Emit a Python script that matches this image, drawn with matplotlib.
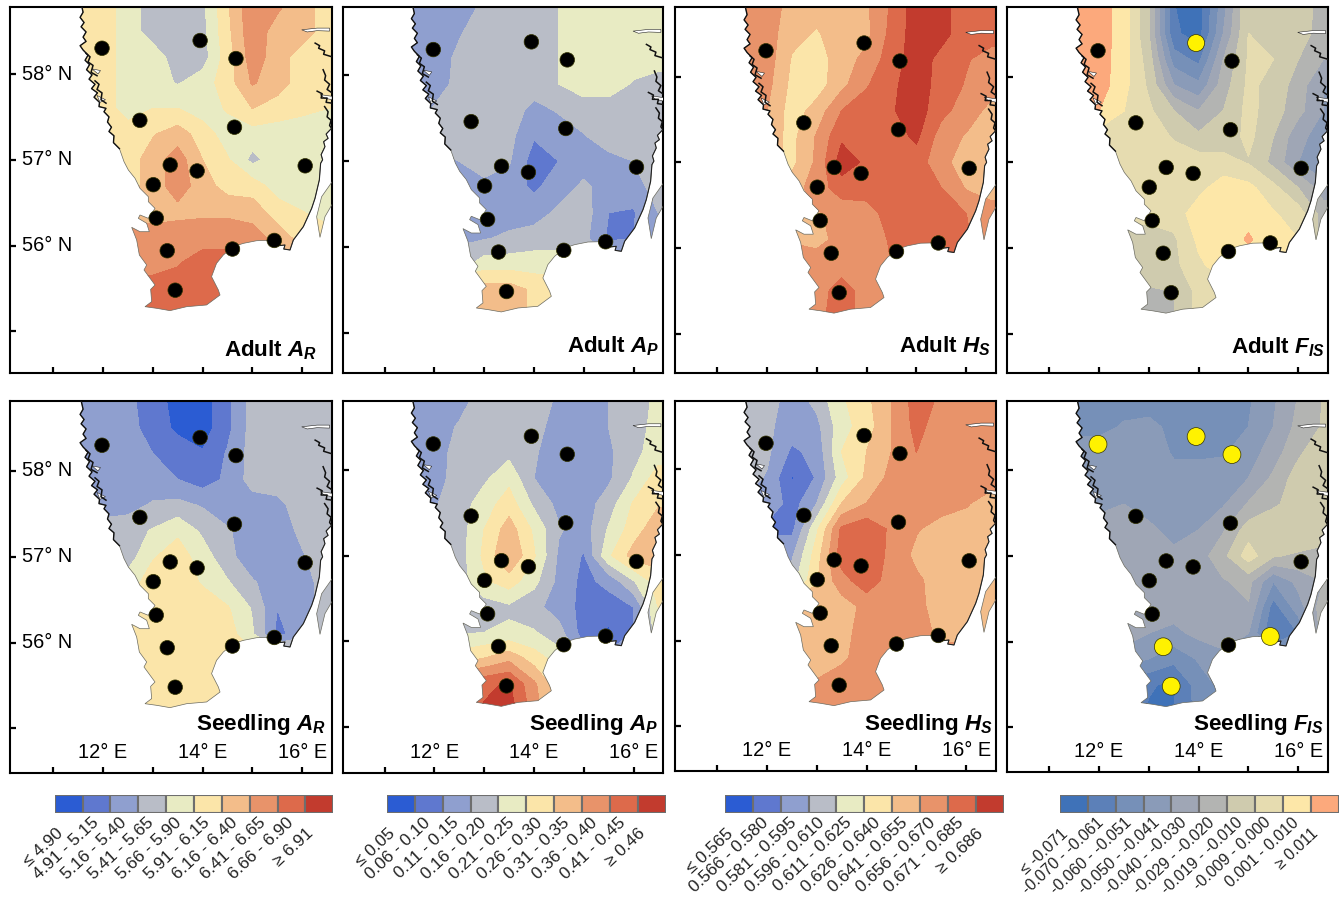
"""
Adult / seedling genetic diversity maps for southern Sweden
"""

import numpy as np
import matplotlib
matplotlib.use("Agg")
import matplotlib.pyplot as plt
from matplotlib.path import Path
from matplotlib.patches import PathPatch, Polygon

plt.rcParams['font.family'] = ['Liberation Sans', 'DejaVu Sans']
plt.rcParams['mathtext.fontset'] = 'custom'
plt.rcParams['mathtext.it'] = 'Liberation Sans:italic:bold'
plt.rcParams['mathtext.rm'] = 'Liberation Sans:bold'

# =============================================================================
# DATA
# =============================================================================

site_lon = [11.98, 13.95, 14.67, 12.74, 14.64, 13.35, 13.89, 16.06, 13.01, 13.07, 13.29, 14.60, 15.44, 13.45]
site_lat = [58.30, 58.39, 58.18, 57.46, 57.38, 56.94, 56.87, 56.93, 56.71, 56.32, 55.94, 55.96, 56.06, 55.48]

west_lon = [11.53, 11.60, 11.54, 11.62, 11.56, 11.66, 11.60, 11.66, 11.54, 11.60, 11.70, 11.64, 11.73, 11.67, 11.78,
            11.72, 11.84, 11.77, 11.89, 11.82, 11.93, 11.92, 12.06, 12.02, 12.12, 12.09, 12.17, 12.12, 12.22, 12.21, 12.33]
west_lat = [58.9, 58.72, 58.66, 58.6, 58.55, 58.49, 58.43, 58.38, 58.33, 58.28, 58.22, 58.16, 58.11, 58.05, 57.99,
            57.94, 57.88, 57.83, 57.78, 57.73, 57.67, 57.62, 57.6, 57.56, 57.5, 57.44, 57.38, 57.33, 57.28, 57.2, 57.13]

south_lon = [12.422, 12.509, 12.643, 12.743, 12.91, 12.91, 13.044, 12.91, 12.743, 12.709, 12.877, 12.93,
             12.743, 12.576, 12.676, 12.73, 12.877, 12.823, 13.044, 12.957, 12.977, 12.843, 13.078, 13.345,
             13.68, 14.08, 14.35, 14.316, 14.18, 14.28, 14.416, 14.617, 14.818, 15.085]
south_lat = [56.978, 56.881, 56.784, 56.667, 56.57, 56.512, 56.434, 56.318, 56.357, 56.318, 56.26, 56.162,
             56.162, 56.213, 56.065, 55.89, 55.774, 55.716, 55.541, 55.49, 55.347, 55.288, 55.269, 55.242,
             55.288, 55.308, 55.424, 55.483, 55.638, 55.793, 55.89, 55.988, 56.026, 56.057]

east_lon = [15.3, 15.487, 15.56, 15.54, 15.654, 15.63, 15.755, 15.822, 16.023, 16.19, 16.257, 16.344,
            16.37, 16.41, 16.38, 16.457, 16.43, 16.52, 16.48, 16.59, 16.8, 16.8, 11.53]
east_lat = [56.06, 56.085, 56.03, 56.0, 56.007, 55.96, 55.949, 56.065, 56.221, 56.434, 56.551, 56.765,
            56.959, 57.0, 57.06, 57.153, 57.211, 57.25, 57.3, 57.367, 57.367, 58.9, 58.9]

oland_lon = [16.65, 16.39, 16.29, 16.357, 16.457, 16.65, 16.65]
oland_lat = [56.784, 56.57, 56.337, 56.096, 56.337, 56.53, 56.784]

# white slivers and black skerry lines of the archipelago
inlets = [
    ([15.99, 16.3, 16.55, 16.55, 16.3, 16.1], [58.515, 58.535, 58.535, 58.50, 58.505, 58.49]),
    ([16.36, 16.6, 16.6, 16.44], [57.76, 57.74, 57.70, 57.72]),
    ([11.78, 11.95, 11.9], [58.06, 58.04, 58.0]),
    ([11.88, 12.05, 11.94], [57.75, 57.70, 57.67]),
]
skerries = [
    ([16.26, 16.35, 16.33, 16.45, 16.43, 16.6], [58.36, 58.33, 58.30, 58.27, 58.23, 58.2]),
    ([16.42, 16.47, 16.45, 16.55, 16.5, 16.6], [58.05, 57.98, 57.93, 57.88, 57.82, 57.78]),
    ([16.3, 16.4, 16.38, 16.5, 16.48, 16.6], [57.80, 57.77, 57.72, 57.72, 57.67, 57.66]),
    ([16.45, 16.52, 16.5, 16.58, 16.55, 16.6], [57.62, 57.56, 57.5, 57.46, 57.4, 57.36]),
    ([11.66, 11.74, 11.70, 11.80, 11.76, 11.88], [58.24, 58.2, 58.14, 58.1, 58.02, 57.98]),
    ([11.84, 11.92, 11.88, 11.98, 11.96, 12.06], [57.92, 57.88, 57.82, 57.78, 57.7, 57.66]),
]

grid_lon = [11.5, 12.0, 12.5, 13.0, 13.5, 14.0, 14.5, 15.0, 15.5, 16.0, 16.5, 17.0]
grid_lat = [58.9, 58.5, 58.2, 57.9, 57.6, 57.3, 57.0, 56.7, 56.4, 56.1, 55.8, 55.5, 55.2]

# legend band position (0-9)
adult_ar = [
    [5, 5, 4, 3, 3, 3.2, 5.4, 7.3, 7, 6, 5, 5],
    [5, 5, 4, 3, 3, 3.2, 5.2, 7.2, 6, 6, 5, 5],
    [5, 5, 4, 4, 3, 3, 5, 7, 6, 5, 5, 5],
    [5, 5, 4, 4, 3.4, 4, 5, 6.6, 6, 5, 5, 5],
    [5, 5, 4, 4.5, 4.5, 4, 4.6, 5.5, 5, 4.7, 4.5, 4.5],
    [5, 5, 5, 5.4, 6, 5, 4, 4, 4, 4, 4, 4],
    [5, 5, 5, 6, 7, 5.5, 4.6, 3.2, 4, 4, 4, 4],
    [5, 5, 5, 6, 7, 6, 5, 5, 4, 4, 4, 4],
    [6, 6, 6, 6, 6.2, 6.3, 6.3, 6, 5, 4.5, 4, 4],
    [7, 7, 7, 7, 7, 7, 7, 7, 6, 5, 5, 5],
    [7, 7, 7, 7, 7.4, 8, 8, 7, 7, 7, 7, 7],
    [8, 8, 8, 8, 8, 8, 8, 8, 8, 8, 8, 8],
    [8, 8, 8, 8, 8, 8, 8, 8, 8, 8, 8, 8],
]
adult_ap = [
    [2, 2, 2, 2.55, 3, 3, 3.5, 4, 4, 4, 4, 4],
    [2, 2, 2.4, 3, 3, 3, 3.5, 4, 4, 4, 4, 4],
    [2, 2, 2.7, 3, 3, 3, 3.5, 4, 4, 4, 4, 4],
    [2, 2, 2.8, 3, 3, 3, 3.5, 4, 4, 3.4, 3, 3],
    [2, 2.6, 3, 3, 3, 2.2, 2.6, 3, 3, 3, 3, 3],
    [3, 3, 3, 3, 2.8, 1.6, 2, 2.45, 3, 3, 3, 3],
    [2, 2, 2.5, 3, 2.6, 1, 1.5, 2, 2.2, 2.5, 3, 3],
    [2, 2, 2, 2.2, 2, 1.3, 2, 2.7, 2, 2, 3, 3],
    [2, 2, 2, 2, 2, 2, 2.7, 3, 1.5, 1.4, 2.5, 2.5],
    [2, 2, 2.3, 2.4, 2.7, 3, 3, 2.8, 1.3, 1.5, 2, 2],
    [3, 3, 3, 4, 4, 4, 4, 3, 3, 3, 3, 3],
    [5, 6, 6, 6, 6, 5.3, 5, 5, 5, 5, 5, 5],
    [6, 6, 6, 6, 6, 5.3, 5, 5, 5, 5, 5, 5],
]
adult_hs = [
    [7, 7, 6.2, 6, 6, 6.4, 7.6, 9, 8.8, 8, 8, 8],
    [7, 7, 5.8, 5.4, 6, 6.2, 7.8, 9, 8.8, 8, 8, 8],
    [7, 7, 5.4, 5, 6, 6.8, 8, 9, 8.2, 7.6, 7, 7],
    [7, 6.8, 5.2, 5, 6.2, 7.4, 8.3, 9, 8.1, 7.4, 6.9, 6.9],
    [6.5, 6.5, 5, 5.9, 7.5, 8, 8.4, 9, 7.8, 7, 6.2, 6],
    [6, 6, 5.2, 6.6, 8.3, 8, 8, 8.7, 7, 6.4, 6, 6],
    [6, 6, 5.2, 6.7, 9, 8.3, 8, 8, 6.8, 6, 6, 6],
    [6, 6, 6, 7, 8, 8, 8, 8, 7.5, 6.4, 6, 6],
    [6, 6, 6, 6.4, 6.8, 7, 8, 8, 8, 7.5, 7, 7],
    [6.4, 6.4, 6.4, 6.2, 6.8, 7, 7.6, 8, 8, 7.6, 7, 7],
    [7, 7, 7, 7, 7, 7, 7.5, 7.5, 7.5, 7.5, 7, 7],
    [7, 7, 7, 7, 8, 7, 7, 7, 7, 7, 7, 7],
    [7, 7, 7, 7.2, 8, 7, 7, 7, 7, 7, 7, 7],
]
adult_fis = [
    [9, 9, 8, 5.5, 0.5, 0, 3, 6.5, 6.5, 6.3, 5, 5],
    [9, 9, 8, 5.5, 0.7, 0, 3.5, 6.5, 6.5, 6, 5, 5],
    [9, 9, 7.9, 6, 2, 1.2, 4.5, 6.6, 6.5, 5.5, 4.5, 4.5],
    [9, 9, 7.8, 6.3, 3.5, 2.7, 5, 6.7, 6.2, 5, 3.5, 3.5],
    [8.5, 8.5, 7.5, 6.7, 5.5, 4.5, 5.5, 6.8, 6, 4.8, 3.5, 3.5],
    [7, 7, 7, 7, 6.4, 5.7, 5.8, 6.8, 5.5, 3.8, 3, 3],
    [7, 7, 7, 7, 7, 7, 6.9, 6.4, 5.2, 3.5, 2.4, 2.4],
    [7, 7, 7, 7, 7, 7.2, 8, 7.8, 6.8, 5.5, 4, 4],
    [7, 7, 7, 7, 7, 8, 8, 8.2, 7.6, 7, 5, 5],
    [6, 6, 6, 5.7, 6.3, 7.7, 8, 8.6, 8, 7.5, 5, 5],
    [6, 6, 6, 6, 6.2, 7.3, 8, 8, 8, 8, 5, 5],
    [5.4, 5.4, 5.4, 5.4, 5.5, 6.8, 7, 7, 7, 7, 7, 7],
    [5, 5, 5, 5, 5.4, 6.8, 7, 7, 7, 7, 7, 7],
]
seedling_ar = [
    [2, 2, 1.7, 1, 0, 0, 1.2, 2.9, 3, 3, 3, 3],
    [2, 2, 1.9, 1, 0.3, 0, 1.2, 2.9, 3, 3, 3, 3],
    [2, 2, 2, 1.5, 1, 0.6, 1.6, 2.9, 3, 3, 3, 3],
    [2, 2, 2, 2, 1.5, 1, 1.7, 2.9, 3, 3, 3, 3],
    [2, 2, 2.2, 2.6, 2.8, 2.4, 2, 2, 2.2, 3, 3, 3],
    [3, 3, 3, 3.6, 4.3, 3.3, 2.6, 2, 2, 2.7, 3, 3],
    [3, 3, 3, 4.4, 5, 4, 2.8, 1.9, 2, 2.4, 3, 3],
    [4, 4, 4, 5, 5, 4.4, 3.6, 2.6, 2, 2, 3, 3],
    [5, 5, 5, 5, 5, 5, 4.6, 3.4, 1.5, 2, 3, 3],
    [5, 5, 5, 5, 5, 5, 5, 3.6, 1.2, 2, 3, 3],
    [5, 5, 5, 5, 5, 5, 5, 5, 5, 5, 5, 5],
    [5, 5, 5, 5, 5, 5, 5, 5, 5, 5, 5, 5],
    [5, 5, 5, 5, 5, 5, 5, 5, 5, 5, 5, 5],
]
seedling_ap = [
    [2, 2, 2, 2.8, 3, 3, 2.4, 2, 2.5, 3, 3.7, 4],
    [2, 2, 2.6, 3, 3, 2.9, 2, 2, 2.5, 3, 3.9, 4],
    [2, 2, 2.9, 3, 3.2, 2.6, 2, 2, 2.3, 3.2, 4, 4],
    [2, 2.1, 2.9, 3.3, 4.2, 2.5, 2, 2, 2.3, 3.6, 5, 5],
    [2, 2.4, 3, 4, 5, 3.3, 2.2, 2, 3, 4.6, 5.4, 5.4],
    [3, 3, 3, 4.5, 6, 4.3, 2.6, 2, 3.6, 5, 6.2, 6.2],
    [3, 3, 3, 4.7, 6.5, 4.6, 2.3, 1.4, 4.3, 5.9, 6, 6],
    [3, 3, 3, 4.3, 5, 3.8, 2.2, 1.2, 1.8, 3.4, 5, 5],
    [3, 3, 3, 3, 3.3, 2.8, 2, 1.2, 1, 1.5, 4.5, 4.5],
    [3.4, 3.4, 3.4, 3.5, 3.7, 3.6, 2.9, 1, 0.3, 1.5, 4, 4],
    [5, 5, 5, 5.5, 6.2, 5, 4, 2, 2, 2, 4, 4],
    [8, 8, 8, 8.3, 8.6, 6.7, 4.8, 4, 4, 4, 4, 4],
    [8, 8, 8, 8.6, 9, 7, 5, 5, 5, 5, 5, 5],
]
seedling_hs = [
    [3, 3, 2.1, 3, 4.4, 5.3, 6.5, 8, 7.4, 7, 7, 7],
    [3, 2.7, 2, 2.2, 4.1, 5, 6.5, 7.8, 7, 7, 7, 7],
    [3, 2.7, 1.3, 1.8, 4.5, 5.5, 6.5, 7.5, 7, 7, 7, 7],
    [3, 2.4, 0.4, 1.6, 4, 5.7, 6.8, 7.2, 7, 7, 7, 7],
    [2.3, 2.3, 1, 2.5, 5.5, 6.5, 7, 7, 7, 6.6, 6, 6],
    [1.2, 1.2, 1.2, 4.3, 7.7, 8.2, 7.3, 6.6, 6, 6, 6, 6],
    [2.3, 2.3, 2.3, 5, 8, 8, 7.3, 6.2, 6, 6, 6, 6],
    [3, 3, 3, 5.4, 7.1, 8.1, 7, 6.7, 6, 6, 6, 6],
    [6, 6, 6, 6, 6, 6.8, 7, 6.8, 6, 6, 6, 6],
    [6, 6, 6, 6, 6.1, 7, 7, 7, 6.2, 6, 6, 6],
    [6, 6, 6, 6, 6.3, 7, 7, 7, 7, 7, 7, 7],
    [7, 7, 7, 6.6, 7, 7, 7, 7, 7, 7, 7, 7],
    [7, 7, 7, 7, 7, 7, 7, 7, 7, 7, 7, 7],
]
seedling_fis = [
    [2, 2, 2, 2, 2, 2, 2, 2.3, 3.3, 4.5, 5.5, 6],
    [2.2, 2.2, 2.6, 2.7, 2.3, 2, 2, 2.5, 3.5, 4.8, 5.6, 6],
    [3, 3, 3, 3, 2.4, 2.3, 2.4, 3, 4, 5.3, 6.3, 6.3],
    [3, 3, 3, 3, 2.8, 3, 3, 3.5, 4.7, 6, 6.5, 6.5],
    [3.2, 3.2, 3.5, 3.1, 3, 3, 3.4, 4.6, 5.3, 6, 6.5, 6.5],
    [4, 4, 4, 3.7, 3.2, 3.5, 4.4, 6, 6.5, 6.5, 6.3, 6.3],
    [4, 4, 4, 4, 3.7, 4, 5.2, 7, 5.6, 5.3, 5, 5],
    [4, 4, 4, 4, 4, 4, 4.4, 4.8, 2.5, 3.8, 4.5, 4.5],
    [4, 4, 4, 4, 4, 4, 4.2, 4.4, 1, 3, 5, 5],
    [4, 4, 4, 3.5, 3.2, 3.8, 4, 3.5, 0.4, 1.5, 5, 5],
    [3, 3, 3, 2.5, 1.8, 2.6, 3.2, 3, 3, 3, 5, 5],
    [1, 1, 1, 0.6, 0.3, 2, 2.8, 3, 3, 3, 3, 3],
    [1, 1, 1, 0.4, 0.5, 1.8, 2.5, 3, 3, 3, 3, 3],
]

panel_grids = [adult_ar, adult_ap, adult_hs, adult_fis,
               seedling_ar, seedling_ap, seedling_hs, seedling_fis]
panel_titles = ['Adult $A_R$', 'Adult $A_P$', 'Adult $H_S$', 'Adult $F_{IS}$',
                'Seedling $A_R$', 'Seedling $A_P$', 'Seedling $H_S$', 'Seedling $F_{IS}$']

# site index of the significant (yellow) sites per panel
yellow_sites = {3: [1], 7: [0, 1, 2, 10, 12, 13]}

diversity_colors = ['#2b5cd3', '#5f78cf', '#8f9fcf', '#b9bdc7', '#e8ebc3',
                    '#fbe5a9', '#f3bd8a', '#e8936a', '#dd6a4b', '#c23b2e']
fis_colors = ['#3f72b8', '#5c80b8', '#7690b8', '#8a9bb8', '#9fa6b5',
              '#b3b4b2', '#cfcbae', '#e6dcb0', '#fde7a8', '#fca97c']

ar_labels = ['≤ 4.90', '4.91 - 5.15', '5.16 - 5.40', '5.41 - 5.65', '5.66 - 5.90',
             '5.91 - 6.15', '6.16 - 6.40', '6.41 - 6.65', '6.66 - 6.90', '≥ 6.91']
ap_labels = ['≤ 0.05', '0.06 - 0.10', '0.11 - 0.15', '0.16 - 0.20', '0.21 - 0.25',
             '0.26 - 0.30', '0.31 - 0.35', '0.36 - 0.40', '0.41 - 0.45', '≥ 0.46']
hs_labels = ['≤ 0.565', '0.566 - 0.580', '0.581 - 0.595', '0.596 - 0.610', '0.611 - 0.625',
             '0.626 - 0.640', '0.641 - 0.655', '0.656 - 0.670', '0.671 - 0.685', '≥ 0.686']
fis_labels = ['≤ -0.071', '-0.070 - -0.061', '-0.060 - -0.051', '-0.050 - -0.041', '-0.040 - -0.030',
              '-0.029 - -0.020', '-0.019 - -0.010', '-0.009 - 0.000', '0.001 - 0.010', '≥ 0.011']

# =============================================================================
# LAYOUT (pixels of the 1343x898 figure)
# =============================================================================

W, H = 1343, 898
fig = plt.figure(figsize=(W / 100, H / 100), dpi=100)

col_left = [10, 342.5, 674.5, 1007]
col_right = [332, 663, 996, 1328]
col_x12 = [103, 434.3, 767, 1099]
row_top = [7, 401]
row_bottom = [[373, 373, 373, 373], [773, 773, 771, 772]]
row_y58 = [[74, 75.3, 76.5, 76.5], [471, 469.7, 469, 470]]
title_right = [317, 660, 991, 1325, 326, 658, 993, 1323]
title_base = [356, 352, 352, 353, 730, 730, 730, 730]
px_lon = 49.8
px_lat = 85.8

coast_lon = west_lon + south_lon + east_lon
coast_lat = west_lat + south_lat + east_lat
coast_path = Path.make_compound_path(
    Path(np.column_stack([coast_lon, coast_lat]), closed=True),
    Path(np.column_stack([oland_lon, oland_lat]), closed=True))

levels = np.arange(-0.5, 10, 1)

# =============================================================================
# MAP PANELS
# =============================================================================

for i, grid in enumerate(panel_grids):
    row, col = i // 4, i % 4
    left, right = col_left[col], col_right[col]
    top, bottom = row_top[row], row_bottom[row][col]
    ax = fig.add_axes([left / W, 1 - bottom / H, (right - left) / W, (bottom - top) / H])

    x0 = 12 - (col_x12[col] - left) / px_lon
    y58 = row_y58[row][col]
    ax.set_xlim(x0, x0 + (right - left) / px_lon)
    ax.set_ylim(58 - (bottom - y58) / px_lat, 58 + (y58 - top) / px_lat)

    colors = fis_colors if col == 3 else diversity_colors
    cs = ax.contourf(grid_lon, grid_lat, np.array(grid, dtype=float), levels=levels, colors=colors)
    cs.set_edgecolor('face')
    cs.set_linewidth(0.3)
    land = PathPatch(coast_path, facecolor='none', edgecolor='#6a6a60', linewidth=0.5, zorder=3)
    ax.add_patch(land)
    cs.set_clip_path(land)

    # rough skerry coasts are nearly black in the original
    ax.plot(west_lon, west_lat, color='#111111', linewidth=1.0, zorder=3)
    ax.plot(east_lon[:20], east_lat[:20], color='#222222', linewidth=0.8, zorder=3)
    for ilon, ilat in inlets:
        ax.add_patch(Polygon(np.column_stack([ilon, ilat]), closed=True, facecolor='white',
                             edgecolor='#222222', linewidth=0.4, zorder=3))
    for slon, slat in skerries:
        ax.plot(slon, slat, color='#111111', linewidth=1.1, zorder=4)

    yellow = yellow_sites.get(i, [])
    dot_colors = ['#fff200' if s in yellow else 'black' for s in range(len(site_lon))]
    sizes = [165 if (s in yellow and i == 7) else (150 if s in yellow else 110) for s in range(len(site_lon))]
    ax.scatter(site_lon, site_lat, s=sizes, c=dot_colors, edgecolors='#333300', linewidths=0.5, zorder=5)

    ax.set_xticks([11, 12, 13, 14, 15, 16])
    ax.set_yticks([55, 56, 57, 58])
    ax.tick_params(direction='in', length=4.5, width=1.6, labelleft=False, labelbottom=False)
    for spine in ax.spines.values():
        spine.set_linewidth(1.5)

    # panel name, with the labels sitting inside the frame
    fig.text(title_right[i] / W, 1 - title_base[i] / H, panel_titles[i], ha='right', va='baseline',
             fontsize=16.2, fontweight='bold')
    if row == 1:
        for lon in [12, 14, 16]:
            ax.text(lon, 0.04, f'{lon}° E', transform=ax.get_xaxis_transform(), ha='center', va='baseline',
                    fontsize=14.4)
    if col == 0:
        for lat in [58, 57, 56]:
            ax.text(x0 + 0.235, lat, f'{lat}° N', ha='left', va='center', fontsize=14.4)

# =============================================================================
# LEGEND BARS
# =============================================================================

bar_left = [54.7, 387, 725, 1060]
bar_width = 278.5
bar_top, bar_bottom = 795, 813
bar_colors = [diversity_colors, diversity_colors, diversity_colors, fis_colors]
bar_labels = [ar_labels, ap_labels, hs_labels, fis_labels]
bar_fontsize = [12.4, 12.4, 12.4, 11.4]

for left, colors, labels, size in zip(bar_left, bar_colors, bar_labels, bar_fontsize):
    ax = fig.add_axes([left / W, 1 - bar_bottom / H, bar_width / W, (bar_bottom - bar_top) / H])
    ax.bar(np.arange(10) + 0.5, np.ones(10), width=1, color=colors, edgecolor='#6e6e6e', linewidth=1.5)
    ax.set_xlim(0, 10)
    ax.set_ylim(0, 1)
    ax.axis('off')
    for k, label in enumerate(labels):
        # first and last labels stop lower and further left
        if k in (0, 9):
            xt, yt = k + 0.02, -0.72
        else:
            xt, yt = k + 0.3, -0.1
        ax.text(xt, yt, label, rotation=43, rotation_mode='anchor', ha='right', va='top',
                fontsize=size, color='#222222', clip_on=False)

fig.savefig('out.png', dpi=100)
